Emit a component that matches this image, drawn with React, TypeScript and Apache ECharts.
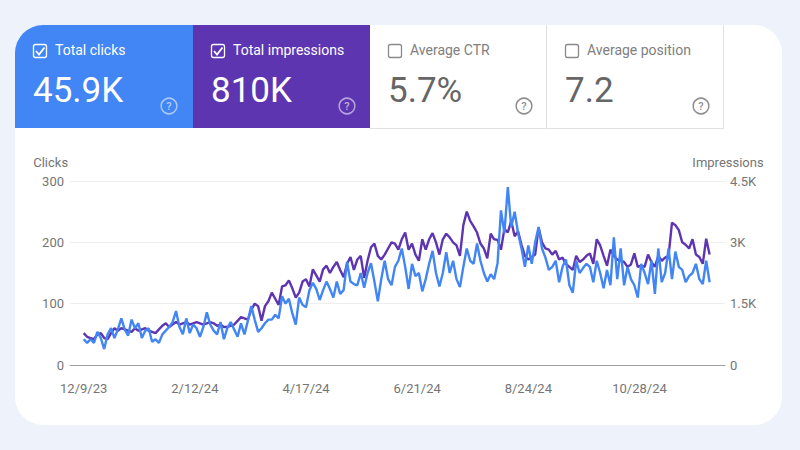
import React, { useEffect, useRef } from "react";
import * as echarts from "echarts";

const xTickLabels = ["12/9/23", "2/12/24", "4/17/24", "6/21/24", "8/24/24", "10/28/24"];
const xTickDays = [0, 65, 130, 195, 260, 325];
const clicksTicks: Record<number, string> = { 0: "0", 100: "100", 200: "200", 300: "300" };
const imprTicks: Record<number, string> = { 0: "0", 1500: "1.5K", 3000: "3K", 4500: "4.5K" };
const DAY_STEP = 2;

const clicks = [
  42, 36, 42, 36, 54, 44, 26, 50, 60, 44, 58, 76, 58, 48, 74, 60, 68, 44, 56, 60, 38, 42, 36, 50, 56,
  62, 70, 88, 62, 50, 76, 52, 66, 60, 46, 62, 86, 66, 56, 50, 70, 42, 60, 70, 58, 46, 68, 50, 72, 96,
  74, 54, 60, 68, 74, 74, 82, 76, 112, 100, 108, 84, 66, 110, 98, 94, 122, 134, 124, 106, 122, 136, 124, 110, 136,
  116, 122, 168, 136, 132, 130, 150, 126, 150, 166, 136, 104, 140, 170, 140, 130, 160, 170, 190, 160, 124, 165, 145, 150, 120,
  140, 165, 186, 150, 128, 150, 184, 150, 170, 140, 127, 160, 190, 170, 165, 198, 170, 150, 136, 148, 140, 166, 252, 215, 290,
  225, 250, 215, 190, 160, 195, 165, 200, 225, 190, 175, 155, 160, 170, 135, 160, 172, 130, 118, 170, 150, 158, 165, 160, 135,
  170, 150, 125, 155, 130, 208, 140, 190, 130, 160, 140, 130, 110, 165, 150, 132, 170, 116, 190, 135, 150, 190, 140, 185, 160,
  155, 135, 145, 150, 165, 140, 132, 170, 135,
];

const impressions = [
  780, 690, 660, 630, 750, 780, 660, 630, 780, 900, 840, 900, 870, 840, 810, 900, 840, 870, 900, 840, 810, 780, 870, 960, 1020,
  930, 990, 1050, 990, 1020, 1050, 990, 1020, 1050, 1020, 990, 1020, 1050, 1020, 960, 990, 930, 930, 960, 990, 1080,
  1170, 1140, 1110, 1350, 1500, 1440, 1080, 1440, 1560, 1770, 1620, 1470, 1920, 1950, 2070, 1875, 1650, 1770, 2040, 2100, 1920, 2340, 2190, 2040,
  2340, 2430, 2250, 2400, 2520, 2325, 2145, 2475, 2640, 2325, 2580, 2670, 2130, 2550, 2880, 2970, 2670, 2580, 2700, 2850, 3000, 2970, 2820, 3075, 3240,
  2820, 2970, 2700, 2550, 3075, 2820, 3075, 3225, 3000, 2700, 3075, 3210, 3120, 3000, 2925, 2670, 3420, 3750, 3525, 3390, 3240, 2970, 2850, 2610, 3210,
  3075, 3060, 2820, 3330, 3240, 3525, 3150, 3270, 2940, 2670, 2580, 2640, 2700, 3360, 3000, 2850, 2820, 2700, 2790, 2580, 2625, 2475, 2400, 2325, 2670,
  2520, 2580, 2670, 2730, 2475, 3075, 2925, 2670, 2430, 2820, 2670, 2580, 2550, 2520, 2400, 2460, 2730, 2400, 2430, 2400, 2700, 2520, 2400, 2670, 2550,
  2625, 2670, 3480, 3420, 3300, 3000, 2940, 2850, 3075, 2700, 2640, 2475, 3090, 2700,
];

const tileLabels = ["Total clicks", "Total impressions", "Average CTR", "Average position"];
const tileValues = ["45.9K", "810K", "5.7%", "7.2"];
const tileChecked = [true, true, false, false];

const BLUE = "#4285F4";
const PURPLE = "#5E35B1";
const FONT = "Roboto";

function tile(i: number, x: number, w: number) {
  const on = tileChecked[i];
  const fill = i === 0 ? BLUE : i === 1 ? PURPLE : "#ffffff";
  const els: any[] = [
    {
      type: "rect",
      shape: { x, y: 25, width: w, height: 103, r: i === 0 ? [28, 0, 0, 0] : 0 },
      style: { fill },
    },
    {
      type: "rect",
      shape: { x: x + 18.5, y: 44.5, width: 13, height: 13, r: 2 },
      style: { fill: "none", stroke: on ? "#ffffff" : "#8a8a8a", lineWidth: 1.3 },
    },
    {
      type: "text",
      x: x + 40,
      y: 50,
      style: { text: tileLabels[i], fill: on ? "#ffffff" : "#808080", font: `400 14px ${FONT}`, verticalAlign: "middle" },
    },
    {
      type: "text",
      x: x + 18,
      y: 90,
      style: { text: tileValues[i], fill: on ? "#ffffff" : "#666666", font: `400 35px ${FONT}`, verticalAlign: "middle" },
    },
    {
      type: "circle",
      shape: { cx: x + 154, cy: 106, r: 7.8 },
      style: { fill: "none", stroke: on ? "rgba(255,255,255,0.55)" : "#8f8f8f", lineWidth: 1.5 },
    },
    {
      type: "text",
      x: x + 154,
      y: 106.5,
      style: {
        text: "?",
        fill: on ? "rgba(255,255,255,0.6)" : "#8f8f8f",
        font: `500 11px ${FONT}`,
        align: "center",
        verticalAlign: "middle",
      },
    },
  ];
  if (on) {
    els.push({
      type: "polyline",
      shape: { points: [[x + 21, 51], [x + 24, 54.5], [x + 29.5, 47.5]] },
      style: { fill: "none", stroke: "#ffffff", lineWidth: 1.8 },
    });
  } else {
    els.push({
      type: "polyline",
      shape: { points: [[x + w - 0.5, 25], [x + w - 0.5, 128.5], [x, 128.5]] },
      style: { fill: "none", stroke: "#e0e0e0", lineWidth: 1 },
    });
  }
  return els;
}

export default function App() {
  const ref = useRef<HTMLDivElement>(null);
  useEffect(() => {
    if (!ref.current) return;
    document.body.style.margin = "0";
    const chart = echarts.init(ref.current, undefined, { renderer: "svg" });
    const axisText = { color: "#757575", fontFamily: FONT, fontSize: 13 };
    chart.setOption({
      animation: false,
      backgroundColor: "#EEF3FB",
      graphic: {
        elements: [
          {
            type: "rect",
            z: -10,
            shape: { x: 15, y: 25, width: 767, height: 400, r: 28 },
            style: { fill: "#ffffff" },
          },
          ...tile(2, 370, 177),
          ...tile(3, 547, 177),
          ...tile(0, 15, 178),
          ...tile(1, 193, 177),
        ],
      },
      grid: { left: 70, right: 75, top: 181, bottom: 85 },
      xAxis: {
        type: "value",
        min: -8,
        max: 375,
        splitLine: { show: false },
        axisLine: { show: true, onZero: false, lineStyle: { color: "#9e9e9e", width: 1 } },
        axisTick: { show: false },
        axisLabel: {
          ...axisText,
          margin: 17,
          customValues: xTickDays,
          formatter: (v: number) => xTickLabels[xTickDays.indexOf(v)] ?? "",
        },
      },
      yAxis: [
        {
          type: "value",
          min: 0,
          max: 300,
          interval: 100,
          name: "Clicks",
          nameGap: 12,
          nameTextStyle: { ...axisText, padding: [0, 66, 0, 0] },
          axisLine: { show: false },
          axisTick: { show: false },
          splitLine: { lineStyle: { color: "#eeeeee", width: 1 } },
          axisLabel: { ...axisText, margin: 6, formatter: (v: number) => clicksTicks[v] ?? "" },
        },
        {
          type: "value",
          min: 0,
          max: 4500,
          interval: 1500,
          position: "right",
          name: "Impressions",
          nameGap: 12,
          nameTextStyle: { ...axisText, padding: [0, 0, 0, 6] },
          axisLine: { show: false },
          axisTick: { show: false },
          splitLine: { show: false },
          axisLabel: { ...axisText, margin: 5, formatter: (v: number) => imprTicks[v] ?? "" },
        },
      ],
      series: [
        {
          type: "line",
          name: "Total impressions",
          yAxisIndex: 1,
          showSymbol: false,
          data: impressions.map((v, i) => [i * DAY_STEP, v]),
          lineStyle: { color: PURPLE, width: 2.4 },
        },
        {
          type: "line",
          name: "Total clicks",
          yAxisIndex: 0,
          showSymbol: false,
          data: clicks.map((v, i) => [i * DAY_STEP, v]),
          lineStyle: { color: BLUE, width: 2.4 },
        },
      ],
    });
    return () => chart.dispose();
  }, []);
  return <div ref={ref} style={{ position: "fixed", left: 0, top: 0, width: 800, height: 450 }} />;
}
